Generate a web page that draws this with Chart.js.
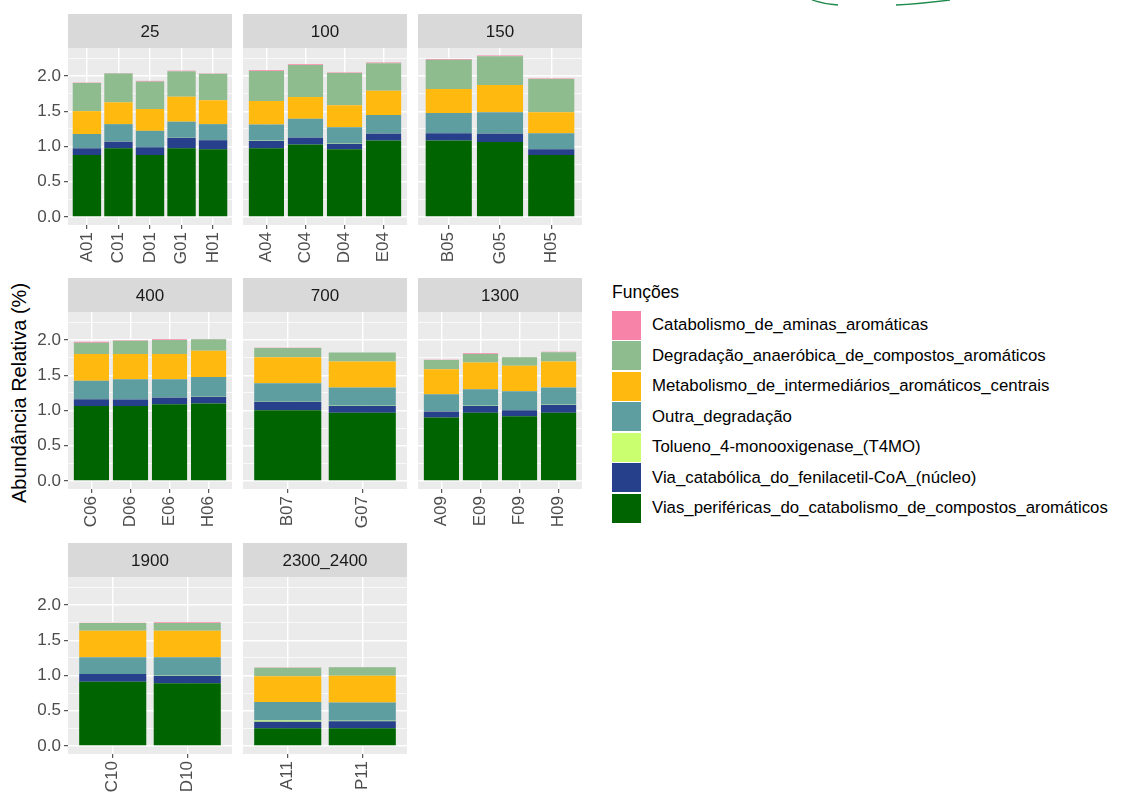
<!DOCTYPE html>
<html>
<head>
<meta charset="utf-8">
<script src="https://cdn.jsdelivr.net/npm/chart.js@4.4.1/dist/chart.umd.min.js"></script>
<style>
  html, body { margin: 0; padding: 0; background: #ffffff; }
  body { width: 1126px; height: 794px; position: relative; overflow: hidden;
         font-family: "Liberation Sans", Arial, sans-serif; }
  canvas.panel { position: absolute; }
  #ytitle { position: absolute; left: 19px; top: 393px; transform: translate(-50%, -50%) rotate(-90deg);
            white-space: nowrap; font-size: 20px; color: #000; }
  #legend { position: absolute; left: 612px; top: 281px; color: #000; }
  #legend .title { font-size: 17.5px; height: 29px; line-height: 22px; }
  #legend .row { display: flex; align-items: center; height: 30.5px; }
  #legend .key { width: 29px; height: 29px; margin-right: 11px; }
  #legend .lab { font-size: 16.8px; white-space: nowrap; }
  #deco { position: absolute; left: 0; top: 0; }
</style>
</head>
<body>
<svg id="deco" width="1126" height="20">
  <path d="M 812 0 C 821 3, 829 4.5, 838 5" fill="none" stroke="#1d8a4b" stroke-width="1.3"/>
  <path d="M 896 5 C 914 4, 933 2, 950 0" fill="none" stroke="#1d8a4b" stroke-width="1.3"/>
</svg>
<div id="ytitle">Abundância Relativa (%)</div>
<div id="legend"></div>
<script>
// Facets (sampling depth) and the samples within each facet
const facetLabels = ['25', '100', '150', '400', '700', '1300', '1900', '2300_2400'];
const facetSamples = [
  ['A01', 'C01', 'D01', 'G01', 'H01'],
  ['A04', 'C04', 'D04', 'E04'],
  ['B05', 'G05', 'H05'],
  ['C06', 'D06', 'E06', 'H06'],
  ['B07', 'G07'],
  ['A09', 'E09', 'F09', 'H09'],
  ['C10', 'D10'],
  ['A11', 'P11']
];

// Functional categories, legend order (top of stack first)
const functionNames = [
  'Catabolismo_de_aminas_aromáticas',
  'Degradação_anaeróbica_de_compostos_aromáticos',
  'Metabolismo_de_intermediários_aromáticos_centrais',
  'Outra_degradação',
  'Tolueno_4-monooxigenase_(T4MO)',
  'Via_catabólica_do_fenilacetil-CoA_(núcleo)',
  'Vias_periféricas_do_catabolismo_de_compostos_aromáticos'
];
const functionColors = ['#F783A8', '#8FBC8F', '#FFB90F', '#5F9EA0', '#CAFF70', '#27408B', '#006400'];

// Relative abundance (%) per sample, samples in facet order
const catabolismoAminas   = [0.005, 0.005, 0.010, 0.010, 0.005,  0.012, 0.012, 0.010, 0.010,  0.010, 0.012, 0.010,  0.015, 0.005, 0.010, 0.005,  0.003, 0.003,  0.003, 0.012, 0.004, 0.008,  0.003, 0.008,  0.005, 0.005];
const degradacaoAnaerobica = [0.400, 0.410, 0.390, 0.360, 0.375,  0.425, 0.455, 0.455, 0.390,  0.415, 0.410, 0.470,  0.160, 0.190, 0.200, 0.165,  0.130, 0.125,  0.130, 0.120, 0.120, 0.130,  0.110, 0.110,  0.120, 0.120];
const metabolismoCentrais = [0.325, 0.310, 0.310, 0.355, 0.340,  0.335, 0.310, 0.315, 0.345,  0.340, 0.385, 0.300,  0.380, 0.360, 0.360, 0.370,  0.370, 0.370,  0.355, 0.380, 0.365, 0.370,  0.380, 0.380,  0.365, 0.380];
const outraDegradacao     = [0.200, 0.245, 0.230, 0.225, 0.225,  0.230, 0.260, 0.235, 0.260,  0.285, 0.300, 0.225,  0.260, 0.285, 0.255, 0.280,  0.260, 0.260,  0.245, 0.235, 0.265, 0.245,  0.235, 0.260,  0.265, 0.260];
const toluenoT4MO         = [0.003, 0.003, 0.003, 0.003, 0.003,  0.003, 0.003, 0.003, 0.003,  0.003, 0.003, 0.003,  0.003, 0.003, 0.003, 0.003,  0.003, 0.003,  0.003, 0.003, 0.003, 0.003,  0.003, 0.003,  0.015, 0.006];
const viaFenilacetil      = [0.095, 0.095, 0.110, 0.150, 0.130,  0.105, 0.100, 0.075, 0.100,  0.105, 0.120, 0.080,  0.095, 0.090, 0.095, 0.095,  0.120, 0.095,  0.085, 0.095, 0.085, 0.110,  0.110, 0.105,  0.095, 0.100];
const viasPerifericas     = [0.880, 0.975, 0.880, 0.975, 0.960,  0.975, 1.030, 0.960, 1.085,  1.085, 1.065, 0.880,  1.065, 1.065, 1.090, 1.100,  1.005, 0.970,  0.900, 0.970, 0.920, 0.970,  0.910, 0.890,  0.250, 0.250];

// Y axis breaks
const yMajorTicks = [0, 0.5, 1, 1.5, 2];
const yMinorTicks = [0.25, 0.75, 1.25, 1.75, 2.25];

// Series in legend order, matching functionNames
const seriesValues = [catabolismoAminas, degradacaoAnaerobica, metabolismoCentrais, outraDegradacao,
                      toluenoT4MO, viaFenilacetil, viasPerifericas];

// ---- layout ----
const COL_LEFT = [68, 243, 418];
const ROW_TOP = [48, 312, 577];
const PLOT_W = 164, PLOT_H = 177, STRIP_H = 34, XAXIS_H = 50;
const Y_MIN = -0.115, Y_MAX = 2.40;
const TICK_FONT = { family: '"Liberation Sans", Arial, sans-serif', size: 17 };

const panelPlugin = {
  id: 'panelDecor',
  beforeDraw(chart, args, opts) {
    const { ctx, chartArea: a } = chart;
    ctx.save();
    ctx.fillStyle = '#EBEBEB';
    ctx.fillRect(a.left, a.top, a.width, a.height);
    ctx.fillStyle = '#D9D9D9';
    ctx.fillRect(a.left, a.top - STRIP_H, a.width, STRIP_H);
    ctx.fillStyle = '#1A1A1A';
    ctx.font = '17px "Liberation Sans", Arial, sans-serif';
    ctx.textAlign = 'center';
    ctx.textBaseline = 'middle';
    ctx.fillText(opts.label, (a.left + a.right) / 2, a.top - STRIP_H / 2 + 1);
    ctx.restore();
  }
};

let offset = 0;
facetLabels.forEach((label, f) => {
  const samples = facetSamples[f];
  const n = samples.length;
  const start = offset;
  offset += n;
  const col = f % 3, row = Math.floor(f / 3);
  const first = col === 0;

  const padL = first ? 0 : 4, padR = first ? 6 : 4;
  const yW = first ? COL_LEFT[0] : 0;
  const cv = document.createElement('canvas');
  cv.className = 'panel';
  cv.width = padL + yW + PLOT_W + padR;
  cv.height = STRIP_H + PLOT_H + XAXIS_H;
  cv.style.left = (COL_LEFT[col] - padL - yW) + 'px';
  cv.style.top = (ROW_TOP[row] - STRIP_H) + 'px';
  document.body.appendChild(cv);

  // stack bottom -> top: reverse of legend order
  const datasets = [];
  for (let s = functionNames.length - 1; s >= 0; s--) {
    datasets.push({
      label: functionNames[s],
      data: samples.map((_, i) => ({ x: i + 1, y: seriesValues[s][start + i] })),
      backgroundColor: functionColors[s],
      borderWidth: 0,
      barPercentage: 0.9,
      categoryPercentage: 1.0
    });
  }

  new Chart(cv, {
    type: 'bar',
    data: { datasets },
    plugins: [panelPlugin],
    options: {
      responsive: false,
      animation: false,
      events: [],
      layout: { padding: { left: padL, right: padR, top: STRIP_H, bottom: 0 } },
      plugins: { legend: { display: false }, tooltip: { enabled: false }, panelDecor: { label } },
      scales: {
        x: {
          type: 'linear',
          stacked: true,
          offset: false,
          min: 0.4,
          max: n + 0.6,
          afterBuildTicks: (scale) => { scale.ticks = samples.map((_, i) => ({ value: i + 1 })); },
          afterFit: (scale) => { scale.height = XAXIS_H; },
          border: { display: false },
          grid: { offset: false, color: '#FFFFFF', lineWidth: 1.4, drawTicks: true,
                  tickLength: 4, tickColor: '#333333', tickWidth: 1 },
          ticks: {
            autoSkip: false, minRotation: 90, maxRotation: 90, padding: 3,
            color: '#4D4D4D', font: TICK_FONT,
            callback: (v) => samples[Math.round(v) - 1] || ''
          }
        },
        y: {
          type: 'linear',
          stacked: true,
          min: Y_MIN,
          max: Y_MAX,
          afterBuildTicks: (scale) => {
            scale.ticks = yMajorTicks.concat(yMinorTicks).sort((a, b) => a - b).map(v => ({ value: v }));
          },
          afterFit: (scale) => { scale.width = yW; },
          border: { display: false },
          grid: {
            color: '#FFFFFF',
            lineWidth: (c) => (c.tick && yMajorTicks.includes(c.tick.value)) ? 1.4 : 0.7,
            drawTicks: first,
            tickLength: 4,
            tickWidth: 1,
            tickColor: (c) => (c.tick && yMajorTicks.includes(c.tick.value)) ? '#333333' : 'rgba(0,0,0,0)'
          },
          ticks: {
            display: first,
            autoSkip: false,
            padding: 3,
            color: '#4D4D4D',
            font: TICK_FONT,
            callback: (v) => yMajorTicks.includes(v) ? v.toFixed(1) : ''
          }
        }
      }
    }
  });
});

// Legend
const legend = document.getElementById('legend');
const title = document.createElement('div');
title.className = 'title';
title.textContent = 'Funções';
legend.appendChild(title);
functionNames.forEach((name, i) => {
  const row = document.createElement('div');
  row.className = 'row';
  const key = document.createElement('div');
  key.className = 'key';
  key.style.background = functionColors[i];
  const lab = document.createElement('div');
  lab.className = 'lab';
  lab.textContent = name;
  row.appendChild(key);
  row.appendChild(lab);
  legend.appendChild(row);
});
</script>
</body>
</html>
